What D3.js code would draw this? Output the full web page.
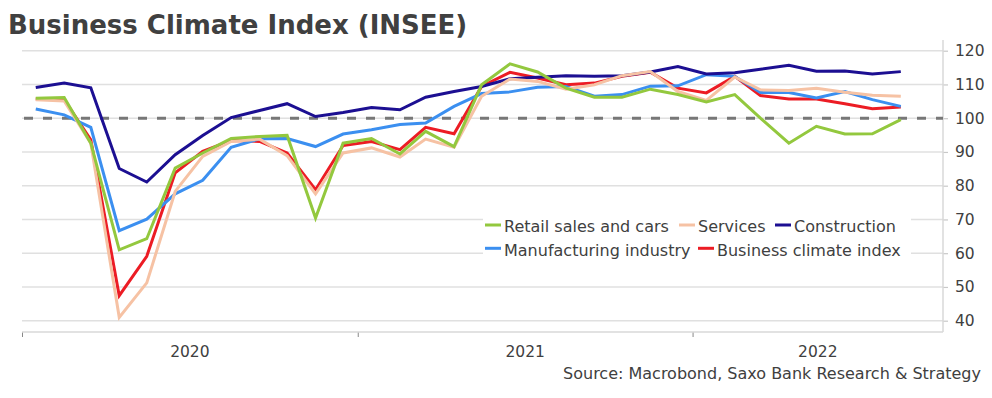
<!DOCTYPE html>
<html><head><meta charset="utf-8">
<script src="https://cdn.jsdelivr.net/npm/d3@7"></script>
<style>
html,body{margin:0;padding:0;background:#fff;}
svg{display:block;font-family:"DejaVu Sans",Verdana,sans-serif;}
</style></head>
<body>
<svg id="chart" width="992" height="398"></svg>
<script>
const months = ["2020-01","2020-02","2020-03","2020-04","2020-05","2020-06","2020-07","2020-08","2020-09","2020-10","2020-11","2020-12",
"2021-01","2021-02","2021-03","2021-04","2021-05","2021-06","2021-07","2021-08","2021-09","2021-10","2021-11","2021-12",
"2022-01","2022-02","2022-03","2022-04","2022-05","2022-06","2022-07","2022-08"];

const retail = [105.9,106.1,92.6,61.0,64.3,85.2,89.7,94.0,94.6,94.9,70.4,92.6,94.0,89.4,96.1,91.6,109.9,116.1,113.7,108.9,106.2,106.2,108.6,107.0,104.8,107.0,100.0,92.6,97.6,95.3,95.4,99.6];
const services = [105.5,105.1,92.6,41.0,51.2,78.3,88.7,93.1,93.8,88.9,77.6,89.7,91.2,88.5,93.8,91.4,106.5,111.6,110.9,108.6,109.9,112.6,113.8,107.9,105.3,112.2,108.4,108.2,108.9,107.7,106.8,106.5];
const construction = [109.1,110.4,109.0,85.1,81.1,89.2,94.9,100.2,102.3,104.3,100.5,101.7,103.2,102.5,106.2,107.9,109.4,111.7,112.1,112.6,112.4,112.6,113.7,115.3,113.1,113.5,114.5,115.7,113.9,114.0,113.1,113.8];
const manufacturing = [102.7,101.0,97.3,66.7,70.1,77.6,81.6,91.4,93.9,94.0,91.6,95.3,96.6,98.1,98.6,103.5,107.3,107.8,109.2,109.4,106.5,107.0,109.5,109.6,112.9,112.4,107.6,107.6,106.0,107.9,105.5,103.5];
const climate = [105.7,105.5,93.6,47.4,59.1,83.8,90.2,93.4,93.1,89.7,78.8,91.9,93.1,90.7,97.3,95.4,109.4,113.6,111.9,109.9,110.4,112.4,113.6,108.9,107.5,112.4,106.7,105.7,105.7,104.3,102.8,103.3];

const seriesNames = ["Retail sales and cars","Services","Construction","Manufacturing industry","Business climate index"];
const seriesColors = ["#93c83e","#f6c2a4","#1c0f92","#3b8ff0","#ec1c24"];
const seriesValues = [retail, services, construction, manufacturing, climate];
const yTicks = [40,50,60,70,80,90,100,110,120];
const yearLabels = ["2020","2021","2022"];
const title = "Business Climate Index (INSEE)";
const source = "Source: Macrobond, Saxo Bank Research & Strategy";
const refLevel = 100;

const svg = d3.select("#chart");
const parse = d3.timeParse("%Y-%m");
const dates = months.map(m => d3.timeDay.offset(parse(m), 15));

const x = d3.scaleTime().domain([new Date(2020,0,1), new Date(2022,9,1)]).range([22, 943]);
const y = d3.scaleLinear().domain([40,120]).range([320.7, 50.7]);
const plotTop = 40, plotBottom = 332, plotLeft = 22, plotRight = 943;

// title
svg.append("text").attr("x",8).attr("y",34)
  .attr("font-size",26).attr("font-weight","bold").attr("fill","#404040").text(title);

// gridlines
svg.append("g").selectAll("line").data(yTicks).join("line")
  .attr("x1",plotLeft).attr("x2",plotRight)
  .attr("y1",d=>y(d)).attr("y2",d=>y(d))
  .attr("stroke","#e0e0e0").attr("stroke-width",1.5);

// right axis
const yAxis = d3.axisRight(y).tickValues(yTicks).tickSize(5).tickPadding(7).tickFormat(d3.format("d"));
const ga = svg.append("g").attr("transform",`translate(${plotRight},0)`).call(yAxis);
ga.select(".domain").remove();
ga.selectAll(".tick line").attr("stroke","#c8c8c8").attr("stroke-width",1.2);
ga.selectAll(".tick text").attr("font-size",15.5).attr("fill","#404040").attr("font-family","DejaVu Sans");
svg.append("line").attr("x1",plotRight).attr("x2",plotRight).attr("y1",plotTop).attr("y2",plotBottom)
  .attr("stroke","#d8d8d8").attr("stroke-width",1.5);

// bottom axis
const years = yearLabels.map(s => new Date(+s,0,1));
const xAxis = d3.axisBottom(x).tickValues(years).tickSize(5).tickFormat("");
const gx = svg.append("g").attr("transform",`translate(0,${plotBottom})`).call(xAxis);
gx.select(".domain").remove();
gx.selectAll(".tick line").attr("stroke","#888").attr("stroke-width",1);
svg.append("line").attr("x1",plotLeft).attr("x2",plotRight).attr("y1",plotBottom).attr("y2",plotBottom)
  .attr("stroke","#d8d8d8").attr("stroke-width",1.5);
svg.append("g").selectAll("text").data(yearLabels).join("text")
  .attr("x", d => { const s = x(new Date(+d,0,1)); const e = Math.min(x(new Date(+d+1,0,1)), plotRight); return (s+e)/2; })
  .attr("y",357).attr("text-anchor","middle").attr("font-size",15.5).attr("fill","#404040").text(d=>d);

// reference line
svg.append("line").attr("x1",plotLeft).attr("x2",plotRight).attr("y1",y(refLevel)).attr("y2",y(refLevel))
  .attr("stroke","#777").attr("stroke-width",3).attr("stroke-dasharray","9,10").attr("stroke-dashoffset",-2);

// lines (first legend entry on top)
const line = d3.line().x((d,i)=>x(dates[i])).y(d=>y(d));
const order = [4,3,2,1,0];
svg.append("g").selectAll("path").data(order).join("path")
  .attr("d", k => line(seriesValues[k]))
  .attr("fill","none").attr("stroke", k => seriesColors[k])
  .attr("stroke-width",3).attr("stroke-linejoin","miter").attr("stroke-linecap","butt");

// legend
const lg = svg.append("g");
lg.append("rect").attr("x",483).attr("y",212).attr("width",428).attr("height",50).attr("fill","#fff");
const legendPos = [[485,225],[679,225],[775,225],[485,248.3],[698,248.3]];
seriesNames.forEach((n,k) => {
  const [lx,ly] = legendPos[k];
  lg.append("line").attr("x1",lx).attr("x2",lx+16).attr("y1",ly).attr("y2",ly)
    .attr("stroke",seriesColors[k]).attr("stroke-width",3);
  lg.append("text").attr("x",lx+19).attr("y",ly+7.3).attr("font-size",16).attr("fill","#404040").text(n);
});

// source
svg.append("text").attr("x",981).attr("y",379).attr("text-anchor","end")
  .attr("font-size",16).attr("fill","#404040").text(source);
</script>
</body></html>
